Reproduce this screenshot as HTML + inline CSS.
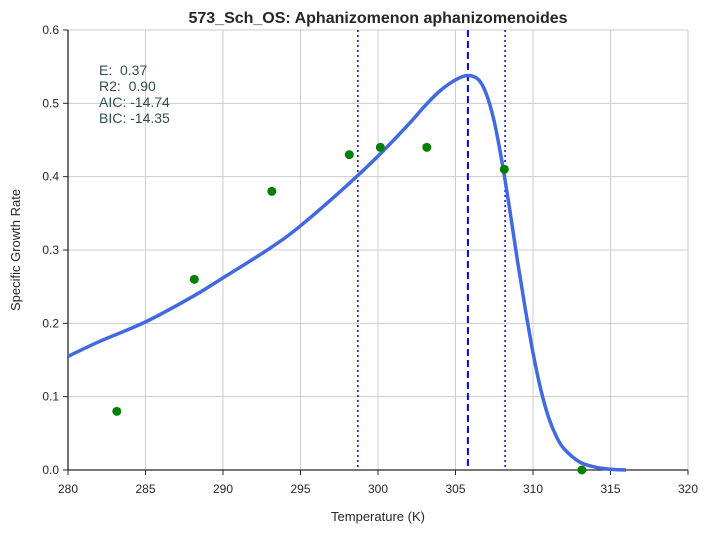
<!DOCTYPE html>
<html><head><meta charset="utf-8"><style>
body{margin:0;background:#fff;font-family:"Liberation Sans",sans-serif}
text{white-space:pre}
</style></head><body>
<svg id="c" width="710" height="533" xmlns="http://www.w3.org/2000/svg"></svg>
<script>
const xTicks=[280,285,290,295,300,305,310,315,320];
const yTicks=[0.0,0.1,0.2,0.3,0.4,0.5,0.6];
const obsTemp=[283.15,288.15,293.15,298.15,300.15,303.15,308.15,313.15];
const obsRate=[0.08,0.26,0.38,0.43,0.44,0.44,0.41,0.0];
const fitTemp=[280,282,285,288,290,293,295,298,300,302,303,304,305,305.8,306.5,307,307.5,308,308.5,309,309.5,310,310.5,311,311.5,312,313,314,315,316];
const fitRate=[0.155,0.175,0.202,0.236,0.262,0.302,0.333,0.388,0.428,0.472,0.496,0.517,0.532,0.538,0.532,0.512,0.475,0.42,0.355,0.285,0.22,0.16,0.11,0.072,0.046,0.029,0.011,0.004,0.001,0];
const vlines=[{t:298.7,d:"2,3"},{t:305.8,d:"7,4"},{t:308.2,d:"2,3"}];
const stats=["E:  0.37","R2:  0.90","AIC: -14.74","BIC: -14.35"];
const X0=68,X1=688,Y0=470,Y1=30;
const sx=t=>X0+(t-280)/(320-280)*(X1-X0);
const sy=v=>Y0-(v-0)/(0.6-0)*(Y0-Y1);
const svg=document.getElementById('c');const NS="http://www.w3.org/2000/svg";
function mk(tag,a,p){const e=document.createElementNS(NS,tag);for(const k in a)e.setAttribute(k,a[k]);(p||svg).appendChild(e);return e;}
xTicks.forEach(t=>{
const g=mk('line',{x1:sx(t),x2:sx(t),y1:Y1,y2:Y0,stroke:'#cccccc'});


const tk=mk('line',{x1:sx(t),x2:sx(t),y1:Y0,y2:Y0+5,stroke:'#262626'});


const l=mk('text',{x:sx(t),y:Y0+23,'text-anchor':'middle','font-size':12,fill:'#262626'});l.textContent=t;


});
yTicks.forEach(v=>{
const g=mk('line',{x1:X0,x2:X1,y1:sy(v),y2:sy(v),stroke:'#cccccc'});


const tk=mk('line',{x1:X0-5,x2:X0,y1:sy(v),y2:sy(v),stroke:'#262626'});


const l=mk('text',{x:X0-9,y:sy(v)+4,'text-anchor':'end','font-size':12,fill:'#262626'});l.textContent=v.toFixed(1);


});
const ax=mk('path',{d:`M${X0},${Y1}V${Y0}H${X1}`,fill:'none',stroke:'#262626','stroke-width':1.3});


vlines.forEach(v=>{
const l=mk('line',{x1:sx(v.t),x2:sx(v.t),y1:Y1,y2:Y0,stroke:'#0000ff','stroke-width':v.d=="7,4"?2:1.5,'stroke-dasharray':v.d});


});
const pts=fitTemp.map((t,i)=>[sx(t),sy(fitRate[i])]);
let d=`M${pts[0][0]},${pts[0][1]}`;
for(let i=0;i<pts.length-1;i++){const p0=pts[Math.max(0,i-1)],p1=pts[i],p2=pts[i+1],p3=pts[Math.min(pts.length-1,i+2)];
d+=`C${p1[0]+(p2[0]-p0[0])/6},${p1[1]+(p2[1]-p0[1])/6} ${p2[0]-(p3[0]-p1[0])/6},${p2[1]-(p3[1]-p1[1])/6} ${p2[0]},${p2[1]}`;}
const fit=mk('path',{d:d,fill:'none',stroke:'#4169e1','stroke-width':3.5});


obsTemp.forEach((t,i)=>{
const c=mk('circle',{cx:sx(t),cy:sy(obsRate[i]),r:4.5,fill:'#008000'});


});
stats.forEach((s,i)=>{
const l=mk('text',{x:99,y:75+i*16,'font-size':14,fill:'#2f4f4f'});l.textContent=s;


});
const ti=mk('text',{x:378,y:23,'text-anchor':'middle','font-size':16,'font-weight':'bold',fill:'#262626'});ti.textContent="573_Sch_OS: Aphanizomenon aphanizomenoides";


const xt=mk('text',{x:378,y:521,'text-anchor':'middle','font-size':13,fill:'#262626'});xt.textContent="Temperature (K)";


const yt=mk('text',{x:20,y:250,'text-anchor':'middle','font-size':13,fill:'#262626',transform:'rotate(-90 20 250)'});yt.textContent="Specific Growth Rate";


</script>
</body></html>
